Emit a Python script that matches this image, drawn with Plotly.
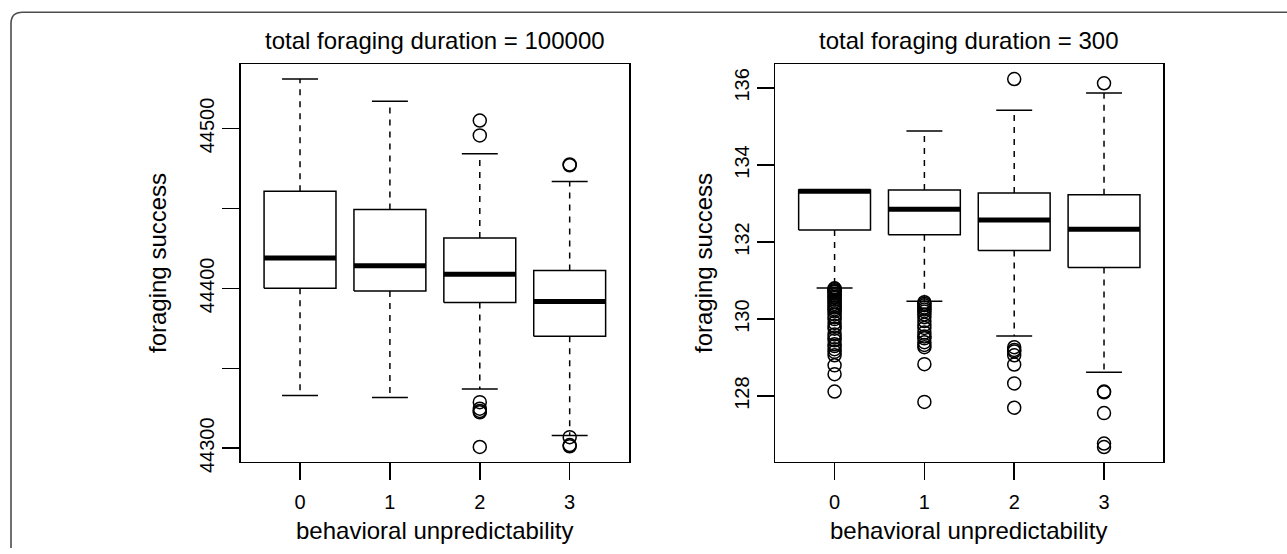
import plotly.graph_objects as go

# ---------------- data ----------------
categories = [0, 1, 2, 3]
tick_labels_x = ["0", "1", "2", "3"]

# total foraging duration = 100000
long_lower = [44333.0, 44331.7, 44337.0, 44308.0]
long_q1 = [44400.0, 44398.4, 44391.2, 44370.1]
long_median = [44419.0, 44414.1, 44408.8, 44391.8]
long_q3 = [44460.7, 44449.3, 44431.5, 44411.2]
long_upper = [44530.9, 44517.0, 44484.2, 44466.9]
long_out_0 = []
long_out_1 = []
long_out_2 = [44505.0, 44495.7, 44328.8, 44324.7, 44323.3, 44322.5, 44300.8]
long_out_3 = [44477.5, 44477.0, 44306.9, 44302.0, 44301.2]
long_yticks = [44300, 44350, 44400, 44450, 44500]
long_yticktext = ["44300", "", "44400", "", "44500"]

# total foraging duration = 300
short_lower = [130.81, 130.46, 129.56, 128.62]
short_q1 = [132.31, 132.19, 131.78, 131.34]
short_median = [133.32, 132.85, 132.57, 132.33]
short_q3 = [133.35, 133.35, 133.27, 133.23]
short_upper = [133.35, 134.88, 135.42, 135.87]
short_out_0 = [130.80, 130.78, 130.75, 130.72, 130.70, 130.66, 130.62, 130.58,
               130.55, 130.50, 130.45, 130.40, 130.35, 130.30, 130.25, 130.20,
               130.12, 130.05, 130.00, 129.90, 129.82, 129.75, 129.60, 129.52,
               129.45, 129.35, 129.30, 129.22, 129.15, 129.06, 128.80, 128.57,
               128.12]
short_out_1 = [130.44, 130.40, 130.36, 130.30, 130.25, 130.20, 130.12, 130.05,
               129.95, 129.85, 129.77, 129.65, 129.55, 129.50, 129.40, 129.33,
               129.27, 128.83, 127.85]
short_out_2 = [136.23, 129.27, 129.20, 129.16, 129.06, 128.82, 128.33, 127.70]
short_out_3 = [136.12, 128.12, 128.10, 127.56, 126.77, 126.68]
short_yticks = [128, 130, 132, 134, 136]
short_yticktext = ["128", "130", "132", "134", "136"]

# ---------------- style ----------------
W, H = 1287, 554
FONT = "Liberation Sans, Arial, Helvetica, sans-serif"
BOXW = 0.4     # half box width (boxwex 0.8)
CAPW = 0.2     # half staple width
LW = 1.5

fig = go.Figure()


def add_panel(xa, ya, lower, q1, med, q3, upper, outs):
    bx, by, mx, my, wx, wy, cx, cy, ox, oy = [], [], [], [], [], [], [], [], [], []
    for i, c in enumerate(categories):
        bx += [c - BOXW, c + BOXW, c + BOXW, c - BOXW, c - BOXW, None]
        by += [q1[i], q1[i], q3[i], q3[i], q1[i], None]
        mx += [c - BOXW, c + BOXW, None]
        my += [med[i], med[i], None]
        if upper[i] > q3[i]:
            wx += [c, c, None]
            wy += [q3[i], upper[i], None]
        if lower[i] < q1[i]:
            wx += [c, c, None]
            wy += [q1[i], lower[i], None]
        cx += [c - CAPW, c + CAPW, None, c - CAPW, c + CAPW, None]
        cy += [upper[i], upper[i], None, lower[i], lower[i], None]
        ox += [c] * len(outs[i])
        oy += list(outs[i])
    common = dict(xaxis=xa, yaxis=ya, showlegend=False, hoverinfo="skip")
    fig.add_trace(go.Scatter(x=wx, y=wy, mode="lines",
                             line=dict(color="black", width=LW, dash="6px,6px"), **common))
    fig.add_trace(go.Scatter(x=bx, y=by, mode="lines",
                             line=dict(color="black", width=LW), **common))
    fig.add_trace(go.Scatter(x=cx, y=cy, mode="lines",
                             line=dict(color="black", width=LW), **common))
    fig.add_trace(go.Scatter(x=mx, y=my, mode="lines",
                             line=dict(color="black", width=5), **common))
    fig.add_trace(go.Scatter(x=ox, y=oy, mode="markers",
                             marker=dict(symbol="circle-open", size=13, color="black",
                                         line=dict(width=1.5, color="black")), **common))


add_panel("x", "y", long_lower, long_q1, long_median, long_q3, long_upper,
          [long_out_0, long_out_1, long_out_2, long_out_3])
add_panel("x2", "y2", short_lower, short_q1, short_median, short_q3, short_upper,
          [short_out_0, short_out_1, short_out_2, short_out_3])

ytop, ybot = 65.7, 471.0
L1, R1 = 240.7, 629.0
L2, R2 = 775.3, 1163.3

axis_common = dict(showgrid=False, zeroline=False, showline=True, mirror=True,
                   linecolor="black", linewidth=LW, ticks="outside", ticklen=17,
                   tickwidth=LW, tickcolor="black",
                   tickfont=dict(family=FONT, size=20, color="black"))

fig.update_layout(
    width=W, height=H,
    margin=dict(l=0, r=0, t=0, b=0),
    paper_bgcolor="white", plot_bgcolor="white",
    font=dict(family=FONT, color="black"),
    xaxis=dict(domain=[L1 / W, R1 / W], range=[-0.66, 3.66], tickvals=categories,
               ticktext=tick_labels_x, anchor="y", ticklabelstandoff=5, **axis_common),
    yaxis=dict(domain=[1 - ybot / H, 1 - ytop / H], range=[44291.6, 44540.1],
               tickvals=long_yticks, ticktext=long_yticktext, tickangle=-90,
               anchor="x", **axis_common),
    xaxis2=dict(domain=[L2 / W, R2 / W], range=[-0.66, 3.66], tickvals=categories,
                ticktext=tick_labels_x, anchor="y2", ticklabelstandoff=5, **axis_common),
    yaxis2=dict(domain=[1 - ybot / H, 1 - ytop / H], range=[126.30, 136.61],
                tickvals=short_yticks, ticktext=short_yticktext, tickangle=-90,
                anchor="x2", **axis_common),
)

tfont = dict(family=FONT, size=24, color="black")
ann = []
for (l, r, title) in [(L1, R1, "total foraging duration = 100000"),
                      (L2, R2, "total foraging duration = 300")]:
    ann.append(dict(x=(l + r) / 2 / W, y=1 - 41.5 / H, xref="paper", yref="paper",
                    text=title, showarrow=False, xanchor="center", yanchor="middle",
                    font=tfont))
    ann.append(dict(x=(l + r) / 2 / W, y=1 - 541 / H, xref="paper", yref="paper",
                    text="behavioral unpredictability", showarrow=False,
                    xanchor="center", yanchor="middle", font=tfont))
for xc in [157.0, 703.0]:
    ann.append(dict(x=xc / W, y=1 - (ytop + ybot) / 2 / H, xref="paper", yref="paper",
                    text="foraging success", showarrow=False, textangle=-90,
                    xanchor="center", yanchor="middle", font=tfont))
fig.update_layout(annotations=ann)

# outer rounded frame (top and left edges)
def px(x, y):
    return f"{x / W:.5f},{1 - y / H:.5f}"

frame_path = (f"M {px(11, H + 5)} L {px(11, 24)} Q {px(11, 12.5)} {px(22.5, 12.5)} "
              f"L {px(W + 5, 12.5)}")
fig.add_shape(type="path", path=frame_path, xref="paper", yref="paper",
              line=dict(color="#4d4d4d", width=1.6))

fig.write_html("out.html",
               config={"displayModeBar": False, "staticPlot": True},
               post_script="document.body.style.margin='0px';"
                           "document.body.style.padding='0px';"
                           "document.body.style.overflow='hidden';")
